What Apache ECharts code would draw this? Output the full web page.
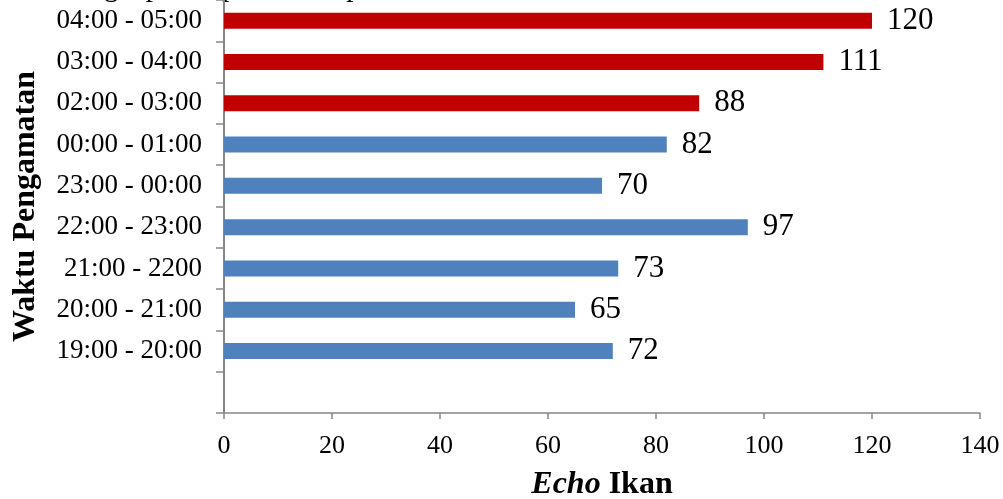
<!DOCTYPE html>
<html>
<head>
<meta charset="utf-8">
<script src="https://cdn.jsdelivr.net/npm/echarts@6/dist/echarts.min.js"></script>
<style>
  html, body { margin: 0; padding: 0; background: #fff; }
  #chart { width: 1003px; height: 499px; }
</style>
</head>
<body>
<div id="chart"></div>
<script>
// Observation periods, bottom to top (first slot left empty)
const categories = ['', '19:00 - 20:00', '20:00 - 21:00', '21:00 - 2200', '22:00 - 23:00',
  '23:00 - 00:00', '00:00 - 01:00', '02:00 - 03:00', '03:00 - 04:00', '04:00 - 05:00'];
// Fish echo counts per period
const echoValues = [null, 72, 65, 73, 97, 70, 82, 88, 111, 120];
// Periods after 02:00 are highlighted
const highlighted = [false, false, false, false, false, false, false, true, true, true];
const xTicks = { min: 0, max: 140, interval: 20 };

const BLUE = '#4F81BD';
const RED = '#C00000';
const AXIS = '#868686';
const SERIF = '"Liberation Serif", "Times New Roman", serif';

const chart = echarts.init(document.getElementById('chart'), null, { renderer: 'canvas' });

chart.setOption({
  animation: false,
  backgroundColor: '#fff',
  textStyle: { fontFamily: SERIF, color: '#000' },
  grid: { left: 224, right: 23, top: 0, bottom: 86, containLabel: false, outerBoundsMode: 'none' },
  graphic: [{
    type: 'text',
    left: 0,
    top: -26,
    style: { text: 'Hasil tangkapan dapat dilihat pada Gambar 5.', font: '29px ' + SERIF, fill: '#000' }
  }],
  xAxis: {
    type: 'value',
    min: xTicks.min,
    max: xTicks.max,
    interval: xTicks.interval,
    axisLine: { show: true, lineStyle: { color: AXIS, width: 1.5 } },
    axisTick: { show: true, inside: false, length: 6, lineStyle: { color: AXIS, width: 1.5 } },
    splitLine: { show: false },
    axisLabel: { fontFamily: SERIF, fontSize: 26, color: '#000', margin: 20 },
    name: '{i|Echo}{b| Ikan}',
    nameLocation: 'middle',
    nameGap: 56,
    nameTextStyle: {
      rich: {
        i: { fontFamily: SERIF, fontSize: 32, fontStyle: 'italic', fontWeight: 'bold', color: '#000' },
        b: { fontFamily: SERIF, fontSize: 32, fontWeight: 'bold', color: '#000' }
      }
    }
  },
  yAxis: {
    type: 'category',
    data: categories,
    boundaryGap: true,
    axisLine: { show: true, lineStyle: { color: AXIS, width: 2 } },
    axisTick: { show: true, inside: false, length: 8, alignWithLabel: false, lineStyle: { color: AXIS, width: 1.5 } },
    axisLabel: { fontFamily: SERIF, fontSize: 27, color: '#000', margin: 22 },
    name: 'Waktu Pengamatan',
    nameLocation: 'middle',
    nameRotate: 90,
    nameGap: 182,
    nameTextStyle: { fontFamily: SERIF, fontSize: 32, fontWeight: 'bold', color: '#000' }
  },
  series: [{
    type: 'bar',
    data: echoValues.map((v, i) => ({
      value: v,
      itemStyle: { color: highlighted[i] ? RED : BLUE }
    })),
    barWidth: 16,
    label: {
      show: true,
      position: 'right',
      distance: 15,
      fontFamily: SERIF,
      fontSize: 31,
      color: '#000'
    }
  }]
});
</script>
</body>
</html>
